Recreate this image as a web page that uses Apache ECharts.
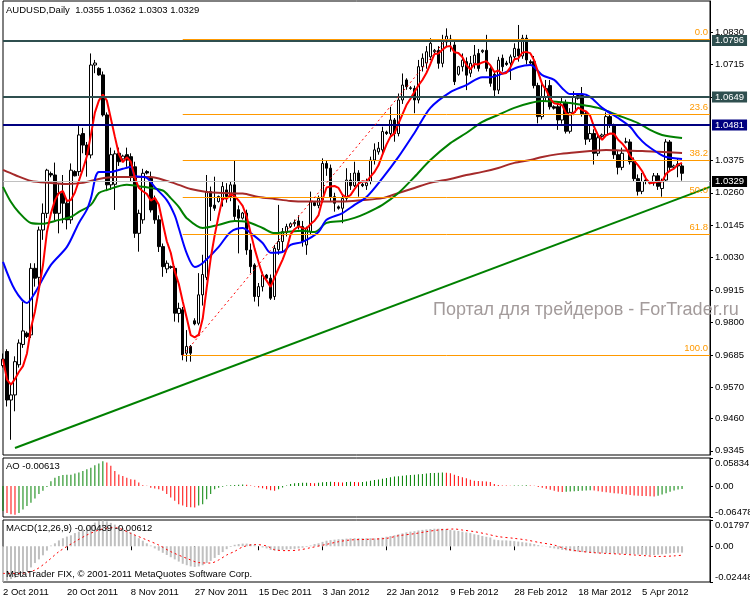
<!DOCTYPE html>
<html><head><meta charset="utf-8">
<script src="https://cdn.jsdelivr.net/npm/echarts@6/dist/echarts.min.js"></script>
<style>html,body{margin:0;padding:0;background:#fff}#c{width:750px;height:600px}</style>
</head><body><div id="c"></div>
<script>
// ---------- categories / ticks ----------
const axisSlots = 178;            // bars plus empty right shift
const tickLabels = ['2 Oct 2011','20 Oct 2011','8 Nov 2011','27 Nov 2011','15 Dec 2011','3 Jan 2012','22 Jan 2012','9 Feb 2012','28 Feb 2012','18 Mar 2012','5 Apr 2012'];
const priceTicks = [1.0830,1.0715,1.0600,1.0375,1.0260,1.0145,1.0030,0.9915,0.9800,0.9685,0.9570,0.9460,0.9345];
const priceMin = 0.9330, priceMax = 1.0940;
const aoMin = -0.06478, aoMax = 0.05834;
const macdMin = -0.02448, macdMax = 0.01797;

// ---------- OHLC (daily, Sunday bars included) ----------
const opens = [
0.9647,0.9697,0.9525,0.9543,0.9650,0.9722,0.9762,0.9756,0.9992,0.9960,
1.0128,1.0187,1.0328,1.0323,1.0187,1.0258,1.0223,1.0164,1.0335,1.0335,
1.0470,1.0429,1.0394,1.0713,1.0701,1.0678,1.0536,1.0288,1.0290,1.0400,
1.0380,1.0395,1.0388,1.0352,1.0116,1.0164,1.0335,1.0311,1.0234,1.0164,
1.0069,0.9990,0.9998,0.9992,0.9832,0.9845,0.9691,0.9715,0.9806,0.9797,
0.9898,0.9960,1.0264,1.0216,1.0229,1.0235,1.0270,1.0246,1.0288,1.0200,
1.0170,1.0188,1.0057,1.0004,0.9892,0.9927,0.9968,0.9957,0.9892,1.0058,
1.0087,1.0120,1.0140,1.0150,1.0160,1.0140,1.0075,1.0122,1.0225,1.0215,
1.0235,1.0364,1.0347,1.0246,1.0210,1.0205,1.0240,1.0305,1.0285,1.0330,
1.0290,1.0285,1.0300,1.0376,1.0405,1.0412,1.0475,1.0470,1.0518,1.0470,
1.0589,1.0660,1.0632,1.0630,1.0589,1.0707,1.0720,1.0742,1.0760,1.0765,
1.0719,1.0795,1.0805,1.0784,1.0680,1.0707,1.0725,1.0684,1.0719,1.0754,
1.0760,1.0765,1.0701,1.0680,1.0624,1.0737,1.0720,1.0720,1.0742,1.0770,
1.0745,1.0808,1.0725,1.0725,1.0640,1.0530,1.0600,1.0640,1.0565,1.0565,
1.0518,1.0580,1.0478,1.0545,1.0595,1.0605,1.0540,1.0450,1.0470,1.0400,
1.0460,1.0465,1.0530,1.0500,1.0395,1.0350,1.0440,1.0440,1.0370,1.0310,
1.0265,1.0305,1.0295,1.0295,1.0320,1.0275,1.0305,1.0440,1.0350,1.0362,
1.0355];
const highs = [
0.9690,0.9705,0.9580,0.9680,0.9740,0.9874,0.9768,1.0010,1.0010,1.0140,
1.0222,1.0345,1.0335,1.0367,1.0294,1.0323,1.0240,1.0364,1.0340,1.0500,
1.0490,1.0440,1.0754,1.0731,1.0705,1.0690,1.0545,1.0420,1.0410,1.0420,
1.0395,1.0420,1.0400,1.0370,1.0200,1.0345,1.0340,1.0335,1.0250,1.0180,
1.0080,1.0020,1.0002,1.0000,0.9870,0.9855,0.9773,0.9720,0.9815,0.9975,
1.0040,1.0323,1.0282,1.0317,1.0250,1.0299,1.0294,1.0299,1.0374,1.0215,
1.0192,1.0200,1.0080,1.0010,0.9940,0.9980,0.9972,0.9970,1.0075,1.0217,
1.0135,1.0150,1.0155,1.0165,1.0180,1.0160,1.0140,1.0264,1.0230,1.0250,
1.0382,1.0375,1.0360,1.0260,1.0215,1.0250,1.0347,1.0330,1.0370,1.0340,
1.0295,1.0310,1.0388,1.0435,1.0440,1.0494,1.0480,1.0565,1.0525,1.0612,
1.0683,1.0666,1.0638,1.0640,1.0731,1.0754,1.0780,1.0808,1.0770,1.0780,
1.0820,1.0843,1.0820,1.0800,1.0710,1.0754,1.0740,1.0745,1.0784,1.0770,
1.0768,1.0820,1.0710,1.0690,1.0742,1.0750,1.0728,1.0750,1.0790,1.0855,
1.0820,1.0820,1.0732,1.0745,1.0650,1.0645,1.0660,1.0660,1.0570,1.0575,
1.0600,1.0590,1.0560,1.0620,1.0610,1.0635,1.0550,1.0500,1.0485,1.0470,
1.0470,1.0545,1.0540,1.0505,1.0410,1.0420,1.0455,1.0450,1.0385,1.0325,
1.0330,1.0320,1.0300,1.0330,1.0330,1.0310,1.0450,1.0447,1.0360,1.0380,
1.0362];
const lows = [
0.9640,0.9502,0.9384,0.9485,0.9640,0.9710,0.9745,0.9745,0.9927,0.9900,
1.0093,1.0170,1.0315,1.0163,1.0116,1.0152,1.0130,1.0150,1.0318,1.0320,
1.0400,1.0317,1.0382,1.0684,1.0675,1.0530,1.0270,1.0270,1.0199,1.0355,
1.0375,1.0352,1.0300,1.0100,1.0051,1.0150,1.0325,1.0190,1.0150,1.0050,
0.9962,0.9975,0.9990,0.9803,0.9800,0.9666,0.9661,0.9661,0.9790,0.9790,
0.9860,0.9950,1.0160,1.0196,1.0225,1.0211,1.0225,1.0230,1.0160,1.0045,
1.0165,1.0040,0.9975,0.9874,0.9857,0.9910,0.9955,0.9880,0.9880,1.0040,
1.0050,1.0105,1.0135,1.0140,1.0130,1.0069,1.0040,1.0110,1.0212,1.0205,
1.0225,1.0320,1.0230,1.0193,1.0200,1.0152,1.0230,1.0270,1.0280,1.0246,
1.0280,1.0270,1.0290,1.0360,1.0395,1.0395,1.0465,1.0460,1.0441,1.0460,
1.0575,1.0625,1.0625,1.0542,1.0577,1.0690,1.0700,1.0730,1.0755,1.0700,
1.0705,1.0780,1.0760,1.0642,1.0675,1.0690,1.0624,1.0670,1.0700,1.0690,
1.0755,1.0690,1.0636,1.0600,1.0610,1.0690,1.0710,1.0660,1.0730,1.0725,
1.0735,1.0715,1.0715,1.0630,1.0506,1.0520,1.0585,1.0555,1.0555,1.0483,
1.0505,1.0470,1.0470,1.0535,1.0590,1.0530,1.0430,1.0440,1.0360,1.0390,
1.0455,1.0460,1.0490,1.0380,1.0325,1.0340,1.0435,1.0360,1.0300,1.0250,
1.0255,1.0290,1.0290,1.0285,1.0270,1.0246,1.0300,1.0340,1.0345,1.0315,
1.0303];
const closes = [
0.9670,0.9525,0.9543,0.9661,0.9727,0.9770,0.9750,0.9992,0.9957,1.0128,
1.0187,1.0340,1.0323,1.0187,1.0258,1.0223,1.0164,1.0340,1.0320,1.0465,
1.0429,1.0394,1.0713,1.0720,1.0678,1.0536,1.0288,1.0395,1.0398,1.0370,
1.0390,1.0376,1.0318,1.0116,1.0187,1.0329,1.0330,1.0199,1.0164,1.0069,
0.9998,1.0010,0.9995,0.9833,0.9850,0.9685,0.9715,0.9691,0.9795,0.9898,
0.9970,1.0264,1.0211,1.0205,1.0247,1.0282,1.0247,1.0288,1.0176,1.0170,
1.0188,1.0057,0.9998,0.9892,0.9927,0.9968,0.9957,0.9886,1.0063,1.0087,
1.0122,1.0140,1.0150,1.0155,1.0140,1.0087,1.0134,1.0228,1.0215,1.0240,
1.0364,1.0347,1.0246,1.0223,1.0205,1.0240,1.0305,1.0285,1.0330,1.0300,
1.0285,1.0295,1.0376,1.0412,1.0418,1.0477,1.0470,1.0518,1.0470,1.0589,
1.0642,1.0636,1.0630,1.0589,1.0707,1.0737,1.0760,1.0790,1.0765,1.0719,
1.0802,1.0815,1.0800,1.0654,1.0707,1.0730,1.0677,1.0719,1.0748,1.0701,
1.0765,1.0701,1.0648,1.0624,1.0730,1.0707,1.0715,1.0742,1.0772,1.0745,
1.0808,1.0731,1.0720,1.0640,1.0530,1.0600,1.0630,1.0565,1.0560,1.0518,
1.0580,1.0478,1.0545,1.0600,1.0605,1.0540,1.0450,1.0470,1.0400,1.0455,
1.0465,1.0530,1.0500,1.0395,1.0350,1.0400,1.0440,1.0370,1.0310,1.0265,
1.0300,1.0300,1.0295,1.0320,1.0283,1.0300,1.0440,1.0350,1.0355,1.0355,
1.0329];

// ---------- moving averages [barIndex, value] ----------
const blueMA = [[0,1.0015],[3,0.9915],[6,0.9869],[8,0.9905],[12,1.0004],[16,1.0068],[19,1.0153],[21,1.0200],[22,1.0240],[24,1.0334],[27,1.0334],[30,1.0345],[32,1.0351],[33,1.0320],[36,1.0313],[38,1.0280],[41,1.0234],[43,1.0180],[44,1.0135],[46,1.0045],[48,0.9997],[50,1.0011],[54,1.0068],[57,1.0121],[60,1.0135],[62,1.0117],[65,1.0082],[67,1.0047],[70,1.0050],[72,1.0075],[75,1.0086],[79,1.0121],[81,1.0164],[85,1.0188],[88,1.0217],[91,1.0245],[95,1.0312],[99,1.0387],[103,1.0472],[107,1.0561],[112,1.0617],[116,1.0642],[120,1.0670],[122,1.0670],[126,1.0688],[129,1.0706],[132,1.0713],[135,1.0677],[138,1.0660],[140,1.0631],[142,1.0610],[145,1.0610],[147,1.0600],[150,1.0561],[154,1.0525],[157,1.0494],[159,1.0458],[161,1.0430],[164,1.0401],[166,1.0387],[170,1.0380]];
const greenMA = [[0,1.0281],[2,1.0227],[4,1.0190],[7,1.0153],[10,1.0150],[13,1.0160],[17,1.0174],[19,1.0192],[22,1.0217],[24,1.0259],[26,1.0270],[31,1.0288],[35,1.0281],[40,1.0268],[42,1.0241],[44,1.0210],[46,1.0170],[50,1.0135],[54,1.0146],[58,1.0160],[61,1.0157],[65,1.0135],[68,1.0117],[71,1.0121],[75,1.0125],[78,1.0121],[81,1.0153],[85,1.0160],[88,1.0171],[91,1.0188],[95,1.0217],[99,1.0259],[103,1.0316],[107,1.0376],[112,1.0436],[116,1.0472],[120,1.0511],[124,1.0536],[128,1.0561],[132,1.0578],[135,1.0585],[139,1.0582],[142,1.0578],[145,1.0571],[149,1.0561],[152,1.0546],[155,1.0529],[159,1.0507],[162,1.0483],[165,1.0465],[170,1.0454]];
const brownMA = [[0,1.0341],[3,1.0323],[7,1.0302],[12,1.0295],[16,1.0291],[20,1.0295],[24,1.0309],[28,1.0316],[32,1.0316],[37,1.0316],[41,1.0302],[44,1.0288],[47,1.0273],[51,1.0263],[55,1.0259],[60,1.0257],[64,1.0245],[68,1.0238],[72,1.0231],[76,1.0229],[80,1.0229],[85,1.0229],[90,1.0234],[95,1.0241],[99,1.0259],[103,1.0277],[107,1.0295],[112,1.0309],[116,1.0323],[120,1.0334],[124,1.0348],[128,1.0366],[132,1.0376],[135,1.0387],[139,1.0397],[143,1.0403],[147,1.0408],[151,1.0412],[155,1.0410],[160,1.0408],[164,1.0405],[170,1.0401]];

// ---------- AO histogram ----------
const aoValues = [
-0.0520,-0.0565,-0.0590,-0.0600,-0.0565,-0.0490,-0.0420,-0.0350,-0.0260,-0.0170,
-0.0100,-0.0020,0.0100,0.0170,0.0210,0.0228,0.0232,0.0236,0.0260,0.0280,
0.0310,0.0350,0.0380,0.0430,0.0470,0.0515,0.0490,0.0420,0.0310,0.0240,
0.0210,0.0170,0.0140,0.0130,0.0070,0.0014,0.0003,-0.0035,-0.0055,-0.0070,
-0.0100,-0.0170,-0.0240,-0.0310,-0.0380,-0.0410,-0.0440,-0.0445,-0.0450,-0.0410,
-0.0380,-0.0280,-0.0170,-0.0070,-0.0035,-0.0014,0.0008,0.0015,0.0020,0.0025,
0.0030,0.0025,0.0010,-0.0010,-0.0030,-0.0050,-0.0070,-0.0090,-0.0100,-0.0070,
-0.0030,0.0010,0.0040,0.0055,0.0060,0.0065,0.0068,0.0062,0.0058,0.0066,
0.0075,0.0085,0.0088,0.0082,0.0078,0.0074,0.0080,0.0086,0.0082,0.0079,
0.0085,0.0095,0.0110,0.0125,0.0135,0.0150,0.0165,0.0180,0.0195,0.0205,
0.0215,0.0222,0.0228,0.0232,0.0245,0.0252,0.0260,0.0268,0.0272,0.0278,
0.0282,0.0278,0.0265,0.0232,0.0210,0.0180,0.0160,0.0128,0.0110,0.0104,
0.0100,0.0095,0.0085,0.0040,0.0020,0.0012,0.0008,0.0005,0.0008,0.0010,
0.0012,0.0014,0.0010,0.0005,-0.0020,-0.0040,-0.0060,-0.0080,-0.0100,-0.0120,
-0.0125,-0.0120,-0.0115,-0.0110,-0.0105,-0.0100,-0.0095,-0.0090,-0.0095,-0.0110,
-0.0120,-0.0130,-0.0140,-0.0150,-0.0160,-0.0170,-0.0180,-0.0190,-0.0200,-0.0205,
-0.0210,-0.0212,-0.0215,-0.0220,-0.0205,-0.0180,-0.0150,-0.0120,-0.0095,-0.0075,
-0.00613];

// ---------- MACD ----------
const macdMain = [
-0.0243,-0.0235,-0.0225,-0.0215,-0.0200,-0.0186,-0.0170,-0.0145,-0.0115,-0.0090,
-0.0062,-0.0030,0.0005,0.0020,0.0040,0.0055,0.0066,0.0075,0.0090,0.0100,
0.0115,0.0128,0.0145,0.0162,0.0172,0.0176,0.0170,0.0160,0.0148,0.0138,
0.0125,0.0110,0.0095,0.0075,0.0055,0.0038,0.0020,0.0005,-0.0015,-0.0030,
-0.0045,-0.0060,-0.0075,-0.0090,-0.0105,-0.0120,-0.0130,-0.0138,-0.0142,-0.0138,
-0.0130,-0.0115,-0.0100,-0.0080,-0.0060,-0.0040,-0.0020,-0.0005,0.0010,0.0015,
0.0018,0.0018,0.0015,0.0010,0.0000,-0.0008,-0.0015,-0.0025,-0.0030,-0.0028,
-0.0025,-0.0022,-0.0020,-0.0018,-0.0015,-0.0010,-0.0005,0.0005,0.0015,0.0020,
0.0030,0.0038,0.0042,0.0045,0.0048,0.0050,0.0052,0.0054,0.0055,0.0055,
0.0055,0.0055,0.0055,0.0054,0.0056,0.0060,0.0065,0.0070,0.0075,0.0082,
0.0088,0.0095,0.0100,0.0103,0.0108,0.0112,0.0115,0.0118,0.0120,0.0120,
0.0120,0.0118,0.0112,0.0108,0.0105,0.0100,0.0095,0.0090,0.0082,0.0078,
0.0070,0.0065,0.0060,0.0045,0.0042,0.0040,0.0040,0.0038,0.0035,0.0032,
0.0028,0.0025,0.0020,0.0015,0.0008,0.0003,-0.0002,-0.0010,-0.0015,-0.0020,
-0.0025,-0.0028,-0.0032,-0.0035,-0.0037,-0.0040,-0.0042,-0.0045,-0.0047,-0.0048,
-0.0048,-0.0048,-0.0049,-0.0050,-0.0051,-0.0052,-0.0053,-0.0054,-0.0055,-0.0057,
-0.0058,-0.0059,-0.0060,-0.0060,-0.0058,-0.0055,-0.0052,-0.0048,-0.0046,-0.0044,
-0.00439];
const macdSignal = [[0,-0.0186],[4,-0.0186],[8,-0.0163],[11,-0.0106],[14,-0.0037],[18,0.0031],[21,0.0077],[24,0.0111],[27,0.0127],[29,0.0123],[32,0.0088],[36,0.0043],[39,0.0008],[42,-0.0037],[46,-0.0083],[49,-0.0112],[52,-0.0115],[54,-0.0094],[56,-0.0060],[58,-0.0035],[60,-0.0005],[63,0.0012],[66,0.0002],[68,-0.0024],[71,-0.0030],[74,-0.0026],[77,-0.0010],[81,0.0013],[84,0.0031],[87,0.0043],[91,0.0047],[96,0.0054],[99,0.0072],[103,0.0086],[106,0.0100],[109,0.0111],[113,0.0118],[115,0.0111],[118,0.0100],[121,0.0084],[124,0.0066],[128,0.0054],[131,0.0043],[134,0.0027],[138,0.0008],[141,-0.0019],[144,-0.0033],[148,-0.0044],[151,-0.0049],[154,-0.0053],[158,-0.0060],[161,-0.0065],[164,-0.0070],[168,-0.0066],[170,-0.00612]];

// ---------- chart objects ----------
const slateLevels = [1.0796, 1.0649];
const navyLevel = 1.0481;
const bidLevel = 1.0329;
const fibHigh = 1.0804, fibLow = 0.9683;
const fibRatios = [0, 23.6, 38.2, 50, 61.8, 100];
const fibStartIdx = 45, fibHighIdx = 111;
const trendStart = [3, 0.9355], trendEnd = [177, 1.0281];

// ---------- build ----------
const MON = ['Jan','Feb','Mar','Apr','May','Jun','Jul','Aug','Sep','Oct','Nov','Dec'];
const categories = [];
{ const d = new Date(2011, 9, 2);
  while (categories.length < axisSlots) {
    if (d.getDay() !== 6) categories.push(d.getDate() + ' ' + MON[d.getMonth()] + ' ' + d.getFullYear());
    d.setDate(d.getDate() + 1);
  } }
const candleData = opens.map((o, i) => [o, closes[i], lows[i], highs[i]]);
const redMA = closes.map((c, i) => { const s = Math.max(0, i - 4); let sum = 0; for (let k = s; k <= i; k++) sum += closes[k]; return +(sum / (i - s + 1)).toFixed(5); });

const F = 'Liberation Sans';
const txt = { fontFamily: F, fontSize: 9.5, color: '#000', fontWeight: 'normal' };
const tickInt = (idx) => idx % 16 === 0 && idx / 16 < tickLabels.length;

function badge(v, bg) {
  return { yAxis: v, lineStyle: { color: bg, width: v === bidLevel ? 1 : 2, type: 'solid' },
    label: { show: true, position: 'end', distance: 2, formatter: v.toFixed(4), backgroundColor: bg === '#C0C0C0' ? '#000' : bg,
      color: '#fff', padding: [1, 3, 0, 3], fontFamily: F, fontSize: 9.5, lineHeight: 10 } };
}
const mlData = [];
fibRatios.forEach(r => {
  const lvl = fibHigh - (fibHigh - fibLow) * r / 100;
  mlData.push([{ coord: [fibStartIdx, lvl], lineStyle: { color: '#FF9900', width: 1, type: 'solid' },
    label: { show: true, position: 'insideEndTop', distance: 2, formatter: r.toFixed(1), color: '#FF9900', fontFamily: F, fontSize: 9.5 } },
    { coord: [axisSlots - 1, lvl] }]);
});
mlData.push(badge(bidLevel, '#C0C0C0'));
slateLevels.forEach(v => mlData.push(badge(v, '#2F4F4F')));
mlData.push(badge(navyLevel, '#000080'));
mlData.push([{ coord: [fibStartIdx, fibLow], lineStyle: { color: '#FF0000', width: 1, type: [2, 3] }, label: { show: false } }, { coord: [fibHighIdx, fibHigh] }]);
mlData.push([{ coord: trendStart, lineStyle: { color: '#008000', width: 2, type: 'solid' }, label: { show: false } }, { coord: trendEnd }]);

const gridBase = { left: 3, right: 40, show: true, borderColor: '#000', borderWidth: 1, backgroundColor: '#fff', outerBoundsMode: 'none', containLabel: false };
const subAxis = (gi, mn, mx) => ({
  type: 'value', gridIndex: gi, position: 'right', min: mn, max: mx,
  axisLine: { show: true, lineStyle: { color: '#000' } },
  axisTick: { show: true, length: 3, customValues: [mn, 0, mx], lineStyle: { color: '#000' } },
  axisLabel: { show: true, customValues: [mn, 0, mx], margin: 5, formatter: v => v === 0 ? '0.00' : v.toFixed(5),
    verticalAlignMinLabel: 'bottom', verticalAlignMaxLabel: 'top', fontFamily: F, fontSize: 9.5, color: '#000' },
  splitLine: { show: false }
});
const maLine = (data, color) => ({ type: 'line', xAxisIndex: 0, yAxisIndex: 0, data, smooth: 0.3, symbol: 'none', z: 3,
  lineStyle: { color, width: 2 }, silent: true });

const option = {
  animation: false, backgroundColor: '#fff',
  title: [
    { text: 'AUDUSD,Daily  1.0355 1.0362 1.0303 1.0329', left: 6, top: 5, padding: 0, textStyle: txt },
    { text: 'AO -0.00613', left: 6, top: 461, padding: 0, textStyle: txt },
    { text: 'MACD(12,26,9) -0.00439 -0.00612', left: 6, top: 523, padding: 0, textStyle: txt },
    { text: 'MetaTrader FIX, \u00A9 2001-2011 MetaQuotes Software Corp.', left: 6, top: 569, padding: 0, textStyle: txt }
  ],
  grid: [
    Object.assign({ top: 1, height: 454 }, gridBase),
    Object.assign({ top: 458, height: 59 }, gridBase),
    Object.assign({ top: 520, height: 62 }, gridBase)
  ],
  xAxis: [0, 1, 2].map(g => ({
    type: 'category', gridIndex: g, data: categories, boundaryGap: false,
    axisLine: { show: false }, splitLine: { show: false },
    axisTick: g === 2 ? { show: true, interval: tickInt, length: 4, lineStyle: { color: '#000' } } : { show: false },
    axisLabel: g === 2 ? { show: true, interval: tickInt, formatter: (v, i) => tickLabels[i / 16], align: 'left', margin: 5, fontFamily: F, fontSize: 9.5, color: '#000' } : { show: false }
  })),
  yAxis: [
    { type: 'value', gridIndex: 0, position: 'right', min: priceMin, max: priceMax,
      axisLine: { show: true, lineStyle: { color: '#000' } },
      axisTick: { show: true, length: 3, customValues: priceTicks, lineStyle: { color: '#000' } },
      axisLabel: { show: true, customValues: priceTicks, margin: 5, formatter: v => v.toFixed(4), fontFamily: F, fontSize: 9.5, color: '#000' },
      splitLine: { show: false } },
    subAxis(1, aoMin, aoMax),
    subAxis(2, macdMin, macdMax)
  ],
  series: [
    { type: 'candlestick', xAxisIndex: 0, yAxisIndex: 0, data: candleData, barWidth: 3, z: 2, silent: true,
      itemStyle: { color: '#fff', color0: '#000', borderColor: '#000', borderColor0: '#000', borderColorDoji: '#000', borderWidth: 1 } },
    maLine(brownMA, '#A52A2A'),
    maLine(greenMA, '#008000'),
    maLine(blueMA, '#0000FF'),
    { type: 'line', xAxisIndex: 0, yAxisIndex: 0, data: redMA, symbol: 'none', z: 3, lineStyle: { color: '#FF0000', width: 2 }, silent: true },
    { type: 'line', xAxisIndex: 0, yAxisIndex: 0, data: [], z: 4, silent: true,
      markLine: { silent: true, animation: false, symbol: ['none', 'none'], label: { show: false }, data: mlData } },
    { type: 'bar', xAxisIndex: 1, yAxisIndex: 1, data: aoValues, barWidth: 1, silent: true,
      itemStyle: { color: p => (p.dataIndex === 0 || aoValues[p.dataIndex] >= aoValues[p.dataIndex - 1]) ? '#008000' : '#FF0000' } },
    { type: 'bar', xAxisIndex: 2, yAxisIndex: 2, data: macdMain, barWidth: 2, silent: true, itemStyle: { color: '#C0C0C0' } },
    { type: 'line', xAxisIndex: 2, yAxisIndex: 2, data: macdSignal, smooth: 0.3, symbol: 'none', silent: true, z: 3,
      lineStyle: { color: '#FF0000', width: 1, type: [2, 3] } }
  ],
  graphic: [
    { type: 'text', left: 433, top: 301, z: 100, silent: true,
      style: { text: 'Портал для трейдеров - ForTrader.ru', fontFamily: F, fontSize: 18, fill: '#A39B9B' } }
  ]
};
const chart = echarts.init(document.getElementById('c'), null, { renderer: 'canvas' });
chart.setOption(option);
</script></body></html>
